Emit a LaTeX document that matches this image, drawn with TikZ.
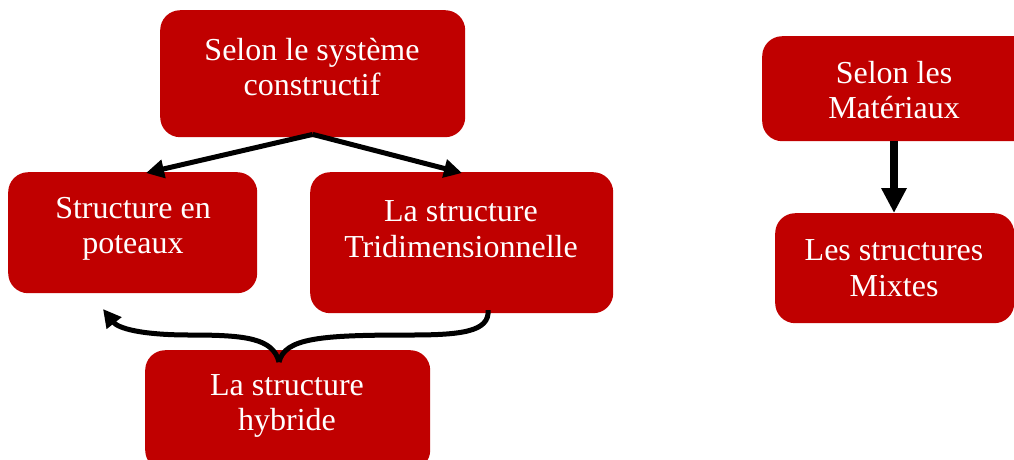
\documentclass[tikz,border=0pt]{standalone}
\usepackage{fontspec}
\setmainfont{Liberation Serif}
\usetikzlibrary{arrows.meta,calc}
\definecolor{boxred}{RGB}{192,0,0}
\begin{document}
\begin{tikzpicture}[x=1pt,y=-1pt,
  box/.style={fill=boxred,draw=none,rounded corners=20pt,inner sep=0pt,anchor=north west},
  txt/.style={text=white,align=center,font=\fontsize{32}{35.5}\selectfont,inner sep=0pt},
  conn/.style={line width=5pt,-{Triangle[length=18pt,width=18pt]}},
  thick conn/.style={line width=8pt,-{Triangle[length=25pt,width=24pt]}}]
\useasboundingbox (0,0) rectangle (1014,459);
\clip (0,0) rectangle (1014,459);
% boxes
\node[box,minimum width=305pt,minimum height=127pt] (b1) at (160,10) {};
\node[box,minimum width=249pt,minimum height=121pt] (b2) at (8,172) {};
\node[box,minimum width=303pt,minimum height=141pt] (b3) at (310,172) {};
\node[box,minimum width=285pt,minimum height=120pt] (b4) at (145,350) {};
\node[box,minimum width=290pt,minimum height=105pt] (b5) at (762,36) {};
\node[box,minimum width=239pt,minimum height=110pt] (b6) at (775,213) {};
% texts
\node[txt] (t1) at (312,67) {Selon le système\\constructif};
\node[txt] (t2) at (133,229) {Structure en\\poteaux};
\node[txt] (t3) at (461,229) {La structure\\Tridimensionnelle};
\node[txt] (t4) at (287,406) {La structure\\hybride};
\node[txt] (t5) at (894,90) {Selon les\\Matériaux};
\node[txt] (t6) at (894,268) {Les structures\\Mixtes};
% connectors
\coordinate (s1) at ($(b1.south)+(0,-3)$);
\coordinate (e2) at (146,173);
\coordinate (e3) at (462,173);
\draw[conn] (s1) -- (e2);
\draw[conn] (s1) -- (e3);
\draw[thick conn] (b5.south -| t5) -- (b6.north -| t5);
% brace-like connector
\coordinate (r) at (488,310);
\coordinate (j) at (279,362);
\coordinate (l) at (103,309);
\draw[line width=5pt] (r) .. controls (490,332) and (460,335) .. (410,335)
  .. controls (320,335) and (285,338) .. (j);
\draw[conn] (j) .. controls (273,338) and (245,335) .. (190,335)
  .. controls (140,335) and (118,328) .. (l);
\end{tikzpicture}
\end{document}
